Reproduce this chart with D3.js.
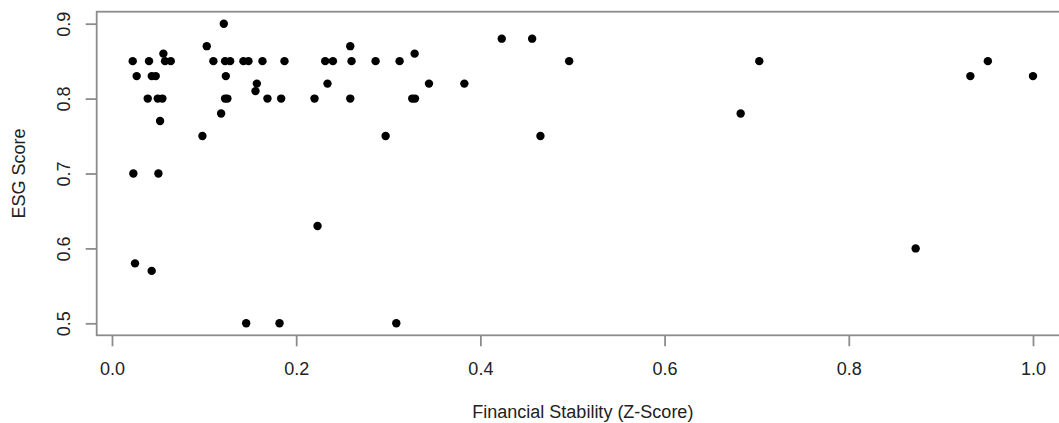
<!DOCTYPE html>
<html>
<head>
<meta charset="utf-8">
<script src="https://cdn.jsdelivr.net/npm/d3@7"></script>
<style>
  body { margin: 0; background: #fff; }
  text { font-family: "Liberation Sans", Arial, sans-serif; fill: #222; }
</style>
</head>
<body>
<script>
// values
var zScore = [0.0225, 0.0268, 0.0232, 0.025, 0.0402, 0.0388, 0.0432, 0.0475, 0.0431, 0.0497,
  0.0547, 0.0504, 0.0522, 0.0558, 0.0576, 0.0638, 0.0982, 0.1029, 0.1101, 0.1214,
  0.1185, 0.1228, 0.1283, 0.1236, 0.1228, 0.1253, 0.1427, 0.1482, 0.1457, 0.1634,
  0.1573, 0.1558, 0.1688, 0.1837, 0.1873, 0.1819, 0.2199, 0.2232, 0.2315, 0.2399,
  0.234, 0.2587, 0.2601, 0.2587, 0.2862, 0.2971, 0.3087, 0.3123, 0.3286, 0.326,
  0.329, 0.3442, 0.3826, 0.4232, 0.4562, 0.4652, 0.4964, 0.6826, 0.7028, 0.8726,
  0.932, 0.951, 1.0];
var esgScore = [0.85, 0.83, 0.70, 0.58, 0.85, 0.80, 0.83, 0.83, 0.57, 0.80,
  0.80, 0.70, 0.77, 0.86, 0.85, 0.85, 0.75, 0.87, 0.85, 0.90,
  0.78, 0.85, 0.85, 0.83, 0.80, 0.80, 0.85, 0.85, 0.50, 0.85,
  0.82, 0.81, 0.80, 0.80, 0.85, 0.50, 0.80, 0.63, 0.85, 0.85,
  0.82, 0.87, 0.85, 0.80, 0.85, 0.75, 0.50, 0.85, 0.86, 0.80,
  0.80, 0.82, 0.82, 0.88, 0.88, 0.75, 0.85, 0.78, 0.85, 0.60,
  0.83, 0.85, 0.83];
var xTicks = [0, 0.2, 0.4, 0.6, 0.8, 1.0];
var yTicks = [0.5, 0.6, 0.7, 0.8, 0.9];
var xTitle = "Financial Stability (Z-Score)";
var yTitle = "ESG Score";

var W = 1059, H = 423;
var box = {left: 96.7, top: 11.7, right: 1069, bottom: 335.3};
var fontSize = "18px";

var data = zScore.map(function(d, i){ return {x: d, y: esgScore[i]}; });

// R style 4% padding around the data range
function padded(ext){
  var p = (ext[1] - ext[0]) * 0.04;
  return [ext[0] - p, ext[1] + p];
}

var x = d3.scaleLinear().domain(padded(d3.extent(zScore))).range([box.left, box.right]);
var y = d3.scaleLinear().domain(padded(d3.extent(esgScore))).range([box.bottom, box.top]);

var svg = d3.select("body").append("svg")
  .attr("width", W)
  .attr("height", H);

// plot box
svg.append("rect")
  .attr("x", box.left)
  .attr("y", box.top)
  .attr("width", box.right - box.left)
  .attr("height", box.bottom - box.top)
  .attr("fill", "none")
  .attr("stroke", "#8c8c8c")
  .attr("stroke-width", 1.8);

// x axis
var gx = svg.append("g")
  .attr("transform", "translate(0," + box.bottom + ")")
  .call(d3.axisBottom(x).tickValues(xTicks).tickSize(11).tickFormat(d3.format(".1f")));
gx.select(".domain").remove();
gx.selectAll("line").attr("stroke", "#8c8c8c").attr("stroke-width", 1.8);
gx.selectAll("text")
  .attr("y", 33)
  .attr("dy", "0.35em")
  .style("font-size", fontSize)
  .style("fill", "#222");

// y axis, labels parallel to the axis
var gy = svg.append("g")
  .attr("transform", "translate(" + box.left + ",0)")
  .call(d3.axisLeft(y).tickValues(yTicks).tickSize(11).tickFormat(d3.format(".1f")));
gy.select(".domain").remove();
gy.selectAll("line").attr("stroke", "#8c8c8c").attr("stroke-width", 1.8);
gy.selectAll("text")
  .attr("x", 0)
  .attr("dy", "0.35em")
  .attr("text-anchor", "middle")
  .attr("transform", "translate(" + (63.5 - box.left) + ",0) rotate(-90)")
  .style("font-size", fontSize)
  .style("fill", "#222");

// titles, centred on the plot box
svg.append("text")
  .attr("x", (box.left + box.right) / 2)
  .attr("y", 411.5)
  .attr("dy", "0.35em")
  .attr("text-anchor", "middle")
  .style("font-size", fontSize)
  .text(xTitle);

svg.append("text")
  .attr("transform", "translate(19," + ((box.top + box.bottom) / 2) + ") rotate(-90)")
  .attr("dy", "0.35em")
  .attr("text-anchor", "middle")
  .style("font-size", fontSize)
  .text(yTitle);

// points
svg.selectAll("circle")
  .data(data)
  .enter().append("circle")
  .attr("cx", function(d){ return x(d.x); })
  .attr("cy", function(d){ return y(d.y); })
  .attr("r", 4.2)
  .attr("fill", "#000");
</script>
</body>
</html>
